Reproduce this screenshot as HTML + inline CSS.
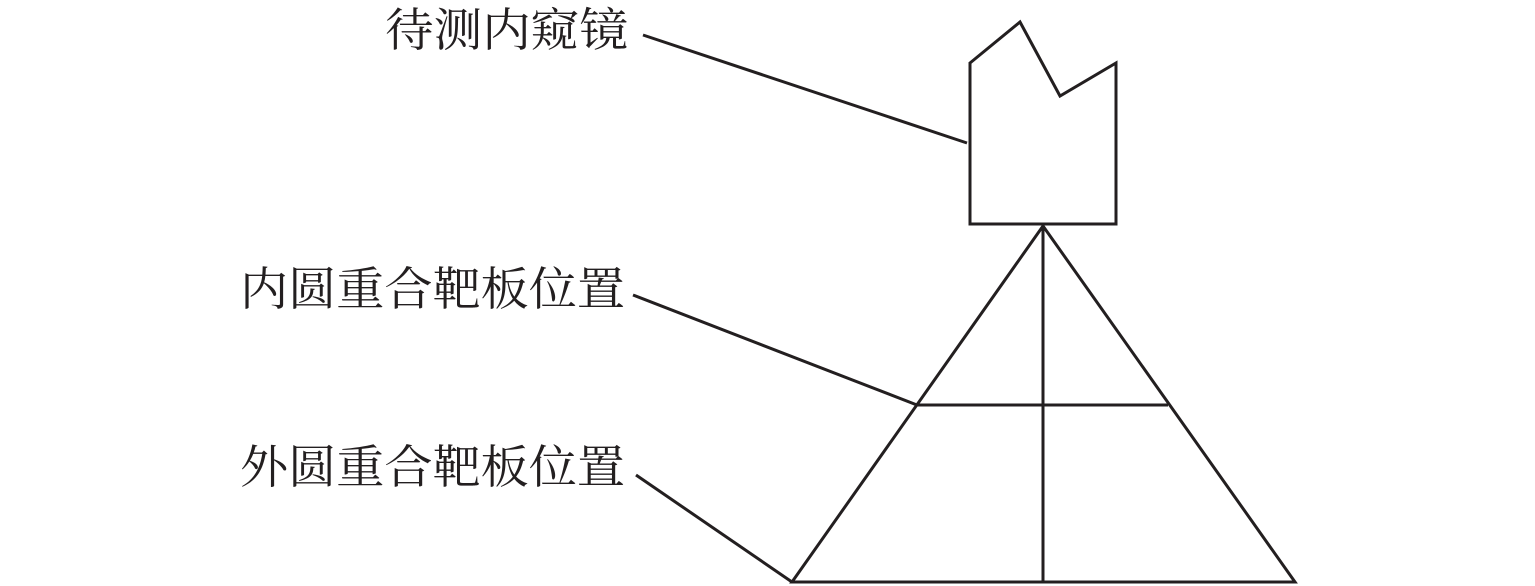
<!DOCTYPE html>
<html><head><meta charset="utf-8"><style>
html,body{margin:0;padding:0;background:#fff;}
svg{display:block}
text{font-family:"Liberation Serif","Noto Serif CJK SC",serif;font-size:46px;fill:#231f20;}
</style></head><body>
<svg width="1535" height="586" viewBox="0 0 1535 586" xmlns="http://www.w3.org/2000/svg">
<g fill="none" stroke="#231f20" stroke-width="3" stroke-linejoin="miter">
<polygon points="970,63 1020,22 1060,96 1116,63 1116,224 970,224"/>
<line x1="643" y1="35" x2="967" y2="143"/>
<polygon points="1043,226 792,582 1295,582"/>
<line x1="1043" y1="226" x2="1043" y2="582"/>
<line x1="917" y1="405" x2="1168" y2="405"/>
<line x1="633" y1="295" x2="917" y2="405"/>
<line x1="636" y1="475" x2="792" y2="582"/>
</g>
<text x="385" y="46" textLength="243" lengthAdjust="spacingAndGlyphs">待测内窥镜</text>
<text x="240" y="305" textLength="385" lengthAdjust="spacingAndGlyphs">内圆重合靶板位置</text>
<text x="240" y="483" textLength="385" lengthAdjust="spacingAndGlyphs">外圆重合靶板位置</text>
</svg>
</body></html>
